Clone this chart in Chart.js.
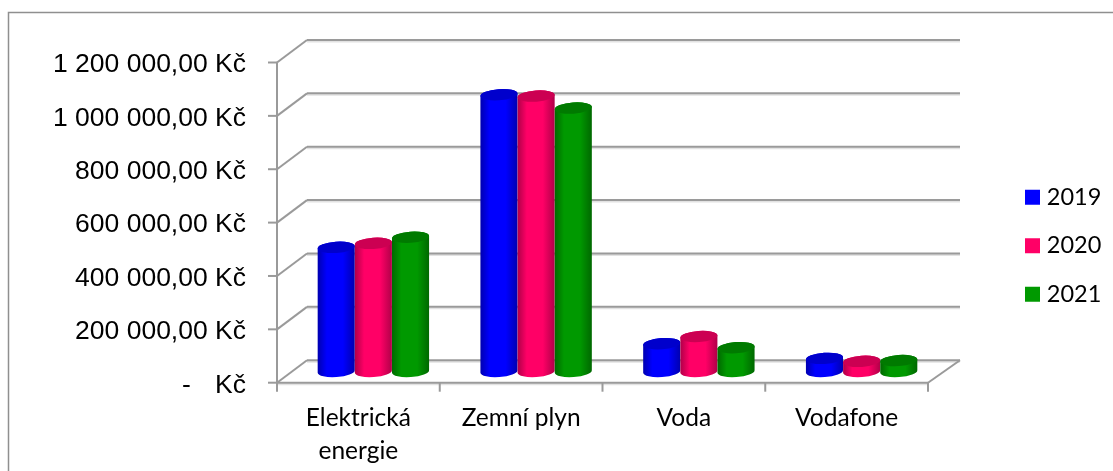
<!DOCTYPE html>
<html>
<head>
<meta charset="utf-8">
<style>html,body{margin:0;padding:0;background:#fff}canvas{display:block}</style>
<script src="https://cdn.jsdelivr.net/npm/chart.js@4"></script>
</head>
<body>
<canvas id="c" width="1113" height="471"></canvas>
<script>
const categories = [['Elektrická','energie'], 'Zemní plyn', 'Voda', 'Vodafone'];
const s2019 = [465000, 1037000, 104000, 49000];
const s2020 = [480000, 1032000, 131000, 38000];
const s2021 = [503000, 987000, 89000, 41000];
const yTicks = [0, 200000, 400000, 600000, 800000, 1000000, 1200000];
const yLabels = ['-   \u200AKč', '200 000,00 Kč', '400 000,00 Kč', '600 000,00 Kč', '800 000,00 Kč', '1 000 000,00 Kč', '1 200 000,00 Kč'];
const seriesNames = ['2019', '2020', '2021'];
const colors = ['#0000ff', '#ff0066', '#009900'];
const edges = ['#0000b0', '#b00048', '#006800'];
const caps = ['#0000cc', '#cc0052', '#007a00'];

const LINE = '#9a9a9a', SHADOW = '#e2e2e2';
const DEPTH_X = 30, DEPTH_Y = 22.5;

function seg(ctx, x1, y1, x2, y2) {
  ctx.beginPath(); ctx.moveTo(x1, y1); ctx.lineTo(x2, y2); ctx.stroke();
}
function both(ctx, x1, y1, x2, y2) {
  ctx.strokeStyle = SHADOW; ctx.lineWidth = 2; seg(ctx, x1, y1 + 1.5, x2, y2 + 1.5);
  ctx.strokeStyle = LINE; ctx.lineWidth = 2; seg(ctx, x1, y1, x2, y2);
}
const plugin3d = {
  id: 'cyl3d',
  afterLayout(chart) {
    const l = chart.legend;
    const w = l.width, h = l.height;
    l.left = 1005; l.right = l.left + w;
    l.top = 160.5; l.bottom = l.top + h;
  },
  beforeDraw(chart) {
    const ctx = chart.ctx;
    ctx.save();
    ctx.fillStyle = '#fff'; ctx.fillRect(0, 0, 1113, 471);
    ctx.strokeStyle = '#8f8f8f'; ctx.lineWidth = 1.5;
    ctx.beginPath();
    ctx.moveTo(8.5, 471); ctx.lineTo(8.5, 12.5); ctx.lineTo(1113, 12.5);
    ctx.stroke();
    ctx.restore();
  },
  beforeDatasetsDraw(chart) {
    const ctx = chart.ctx, x = chart.scales.x, y = chart.scales.y;
    const L = chart.chartArea.left, R = chart.chartArea.right, B = chart.chartArea.bottom, T = chart.chartArea.top;
    ctx.save();
    ctx.lineCap = 'butt';
    yTicks.forEach(v => {
      const py = y.getPixelForValue(v);
      both(ctx, L + DEPTH_X, py - DEPTH_Y, R + DEPTH_X + 2, py - DEPTH_Y);
      ctx.strokeStyle = LINE; ctx.lineWidth = 2;
      seg(ctx, L, py, L + DEPTH_X, py - DEPTH_Y);
      seg(ctx, L - 9, py, L, py);
    });
    ctx.strokeStyle = LINE; ctx.lineWidth = 2;
    seg(ctx, L, T, L, B);
    seg(ctx, R, B, R + DEPTH_X + 2, B - DEPTH_Y);
    both(ctx, L, B, R, B);
    ctx.strokeStyle = LINE; ctx.lineWidth = 2;
    const n = categories.length;
    for (let i = 0; i <= n; i++) {
      const px = L + (R - L) * i / n;
      seg(ctx, px, B, px, B + 9);
    }
    const tilt = -0.07, ry = 5.6;
    const sx = DEPTH_X / 2, sy = DEPTH_Y / 2;
    chart.data.datasets.forEach((ds, di) => {
      chart.getDatasetMeta(di).data.forEach(el => {
        const cx = el.x + sx, rx = el.width / 2;
        const top = el.y - sy, bot = el.base - sy;
        const g = ctx.createLinearGradient(cx - rx, 0, cx + rx, 0);
        g.addColorStop(0, edges[di]);
        g.addColorStop(0.25, colors[di]);
        g.addColorStop(0.68, colors[di]);
        g.addColorStop(1, edges[di]);
        ctx.beginPath();
        ctx.ellipse(cx, bot, rx, ry, tilt, 0, Math.PI, false);
        ctx.ellipse(cx, top, rx, ry, tilt, Math.PI, Math.PI * 2, false);
        ctx.closePath();
        ctx.fillStyle = g; ctx.fill();
        ctx.beginPath();
        ctx.ellipse(cx, top, rx, ry, tilt, 0, Math.PI * 2);
        ctx.fillStyle = caps[di]; ctx.fill();
      });
    });
    ctx.restore();
  },
  beforeDatasetDraw() { return false; }
};

new Chart(document.getElementById('c'), {
  type: 'bar',
  data: {
    labels: categories,
    datasets: seriesNames.map((name, i) => ({
      label: name,
      data: [s2019, s2020, s2021][i],
      backgroundColor: colors[i],
      categoryPercentage: 0.685,
      barPercentage: 1
    }))
  },
  options: {
    responsive: false,
    animation: false,
    layout: { padding: { left: 0, right: 185, top: 62.5, bottom: 0 } },
    plugins: {
      title: { display: false },
      tooltip: { enabled: false },
      legend: {
        position: 'chartArea',
        align: 'start',
        labels: {
          boxWidth: 5, boxHeight: 5, padding: 25,
          color: '#000',
          font: { family: 'Lato', size: 23.5 },
          generateLabels: c => c.data.datasets.map((d, i) => ({
            text: d.label, fillStyle: colors[i], strokeStyle: colors[i], lineWidth: 10, datasetIndex: i
          }))
        }
      }
    },
    scales: {
      x: {
        grid: { display: false }, border: { display: false },
        afterFit: s => { s.height = 471 - 382.7; },
        ticks: { color: '#000', font: { family: 'Lato', size: 24.5, lineHeight: 1.35 }, padding: 11, maxRotation: 0, autoSkip: false }
      },
      y: {
        min: 0, max: 1200000,
        grid: { display: false, drawTicks: false }, border: { display: false },
        afterFit: s => { s.width = 277; },
        afterBuildTicks: s => { s.ticks = yTicks.map(v => ({ value: v })); },
        ticks: {
          color: '#000', font: { family: 'Liberation Sans', size: 26.5 }, padding: 31, labelOffset: 2.5,
          callback: v => yLabels[yTicks.indexOf(v)]
        }
      }
    }
  },
  plugins: [plugin3d]
});
</script>
</body>
</html>
